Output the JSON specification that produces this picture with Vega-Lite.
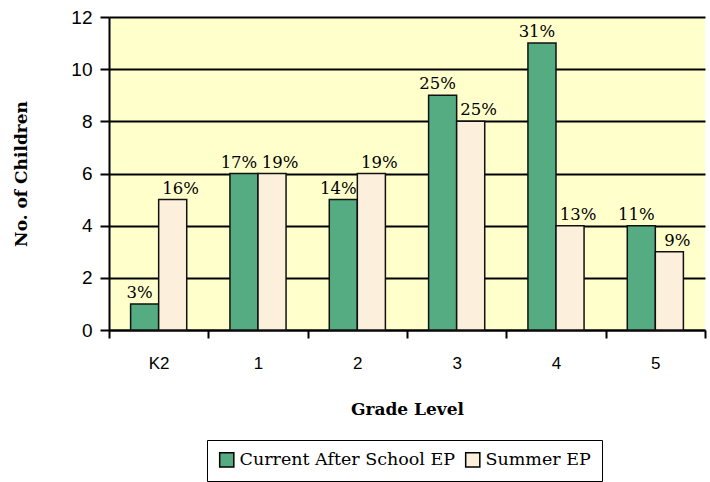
{
  "$schema": "https://vega.github.io/schema/vega-lite/v6.json",
  "width": 596,
  "height": 313,
  "autosize": {"type": "none"},
  "padding": {"left": 109, "top": 17, "right": 5, "bottom": 152},
  "background": "white",
  "config": {
    "view": {"fill": "#ffffcc", "stroke": null},
    "axis": {"domainColor": "black", "tickColor": "black", "gridColor": "black", "labelColor": "black", "titleColor": "black"}
  },
  "data": {
    "values": [
      {"grade": "K2", "series": "Current After School EP", "children": 1, "pct": "3%"},
      {"grade": "K2", "series": "Summer EP", "children": 5, "pct": "16%"},
      {"grade": "1", "series": "Current After School EP", "children": 6, "pct": "17%"},
      {"grade": "1", "series": "Summer EP", "children": 6, "pct": "19%"},
      {"grade": "2", "series": "Current After School EP", "children": 5, "pct": "14%"},
      {"grade": "2", "series": "Summer EP", "children": 6, "pct": "19%"},
      {"grade": "3", "series": "Current After School EP", "children": 9, "pct": "25%"},
      {"grade": "3", "series": "Summer EP", "children": 8, "pct": "25%"},
      {"grade": "4", "series": "Current After School EP", "children": 11, "pct": "31%"},
      {"grade": "4", "series": "Summer EP", "children": 4, "pct": "13%"},
      {"grade": "5", "series": "Current After School EP", "children": 4, "pct": "11%"},
      {"grade": "5", "series": "Summer EP", "children": 3, "pct": "9%"}
    ]
  },
  "encoding": {
    "x": {
      "field": "grade", "type": "nominal", "sort": null,
      "scale": {"paddingInner": 0, "paddingOuter": 0},
      "axis": {
        "title": "Grade Level", "labelAngle": 0, "tickBand": "extent",
        "labelFont": "Liberation Sans", "labelFontSize": 17, "labelPadding": 17,
        "tickSize": 8, "domainWidth": 2, "tickWidth": 2,
        "titleFont": "DejaVu Serif", "titleFontSize": 17, "titleFontWeight": "bold", "titlePadding": 30
      }
    },
    "xOffset": {
      "field": "series", "type": "nominal",
      "scale": {"paddingInner": 0, "paddingOuter": 0.77}
    },
    "y": {
      "field": "children", "type": "quantitative",
      "scale": {"domain": [0, 12], "nice": false},
      "axis": {
        "title": "No. of Children", "values": [0, 2, 4, 6, 8, 10, 12],
        "labelFont": "Liberation Sans", "labelFontSize": 19, "labelPadding": 8, "labelOverlap": false,
        "tickSize": 9, "domainWidth": 2, "tickWidth": 2, "gridWidth": 2, "grid": true,
        "titleFont": "DejaVu Serif", "titleFontSize": 17, "titleFontWeight": "bold", "titlePadding": 40
      }
    }
  },
  "layer": [
    {
      "mark": {"type": "bar", "stroke": "#111111", "strokeWidth": 1.5},
      "encoding": {
        "color": {
          "field": "series", "type": "nominal",
          "scale": {"domain": ["Current After School EP", "Summer EP"], "range": ["#55ab82", "#fcf0dc"]},
          "legend": {
            "title": null, "orient": "none", "direction": "horizontal",
            "legendX": 98, "legendY": 423,
            "symbolType": "square", "symbolSize": 200, "symbolStrokeColor": "black", "symbolStrokeWidth": 1.5,
            "labelFont": "DejaVu Serif", "labelFontSize": 17.5, "labelColor": "black",
            "strokeColor": "black", "padding": 11, "columnPadding": 6, "labelLimit": 400, "labelOffset": 4
          }
        }
      }
    },
    {
      "transform": [{"filter": "datum.series === 'Current After School EP'"}],
      "mark": {"type": "text", "baseline": "bottom", "dy": -3, "dx": -5, "font": "DejaVu Serif", "fontSize": 16.5, "color": "black"},
      "encoding": {"text": {"field": "pct"}}
    },
    {
      "transform": [{"filter": "datum.series === 'Summer EP'"}],
      "mark": {"type": "text", "baseline": "bottom", "dy": -3, "dx": 8, "font": "DejaVu Serif", "fontSize": 16.5, "color": "black"},
      "encoding": {"text": {"field": "pct"}}
    }
  ]
}
